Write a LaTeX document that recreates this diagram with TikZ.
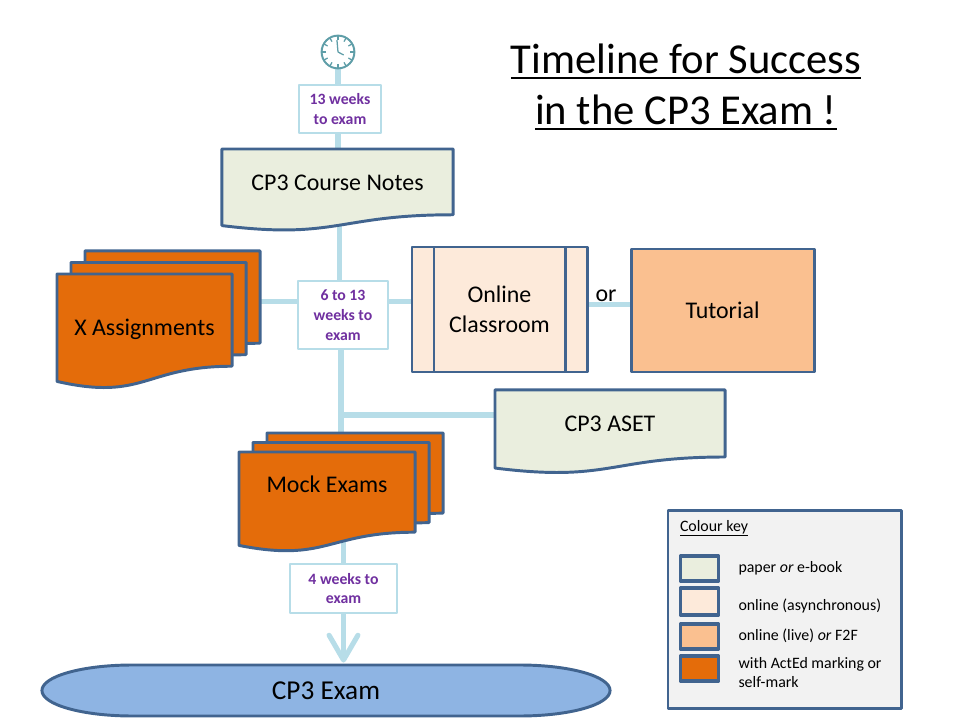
\documentclass[tikz,border=0pt]{standalone}
\usepackage{fontspec}
\setmainfont{Carlito}
\usetikzlibrary{arrows.meta, positioning, backgrounds, shadows}

\definecolor{boxline}{HTML}{41648F}
\definecolor{linkblue}{HTML}{B7DDE8}
\definecolor{paperfill}{HTML}{EAEEDE}
\definecolor{onlinefill}{HTML}{FDEADA}
\definecolor{livefill}{HTML}{FAC090}
\definecolor{markfill}{HTML}{E46C0A}
\definecolor{examfill}{HTML}{8EB4E3}
\definecolor{keyfill}{HTML}{F2F2F2}
\definecolor{notepurple}{HTML}{7030A0}
\definecolor{clockteal}{HTML}{5F9EA8}

% text with a rule under it: depth, thickness, text
\newcommand\underrule[3]{\mbox{\setbox0=\hbox{#3}\rlap{\rule[-#1]{\wd0}{#2}}\box0}}

\makeatletter
% wavy-bottomed page
\pgfdeclareshape{paperdoc}{
    \inheritsavedanchors[from=rectangle]
    \inheritanchorborder[from=rectangle]
    \inheritanchor[from=rectangle]{center}
    \inheritanchor[from=rectangle]{north}
    \inheritanchor[from=rectangle]{south}
    \inheritanchor[from=rectangle]{east}
    \inheritanchor[from=rectangle]{west}
    \inheritanchor[from=rectangle]{north west}
    \inheritanchor[from=rectangle]{south west}
    \backgroundpath{
        \southwest \pgf@xa=\pgf@x \pgf@ya=\pgf@y
        \northeast \pgf@xb=\pgf@x \pgf@yb=\pgf@y
        \edef\docleft{\the\pgf@xa}\edef\docright{\the\pgf@xb}\edef\doctop{\the\pgf@yb}
        \edef\docmid{\the\dimexpr(\pgf@xa+\pgf@xb)/2\relax}
        \edef\docyr{\the\dimexpr\pgf@yb-(\pgf@yb-\pgf@ya)*802/1000\relax}
        \edef\docyl{\the\dimexpr\pgf@yb-(\pgf@yb-\pgf@ya)*934/1000\relax}
        \edef\docyc{\the\dimexpr\pgf@yb-(\pgf@yb-\pgf@ya)*1107/1000\relax}
        \pgfpathmoveto{\pgfqpoint{\docleft}{\doctop}}
        \pgfpathlineto{\pgfqpoint{\docright}{\doctop}}
        \pgfpathlineto{\pgfqpoint{\docright}{\docyr}}
        \pgfpathcurveto{\pgfqpoint{\docmid}{\docyr}}{\pgfqpoint{\docmid}{\docyc}}{\pgfqpoint{\docleft}{\docyl}}
        \pgfpathclose
    }
}
% long pill with elliptical ends
\pgfdeclareshape{terminator}{
    \inheritsavedanchors[from=rectangle]
    \inheritanchorborder[from=rectangle]
    \inheritanchor[from=rectangle]{center}
    \inheritanchor[from=rectangle]{north}
    \inheritanchor[from=rectangle]{south}
    \backgroundpath{
        \southwest \pgf@xa=\pgf@x \pgf@ya=\pgf@y
        \northeast \pgf@xb=\pgf@x \pgf@yb=\pgf@y
        \edef\xl{\the\pgf@xa}\edef\xr{\the\pgf@xb}\edef\yb{\the\pgf@ya}\edef\yt{\the\pgf@yb}
        \edef\ym{\the\dimexpr(\pgf@ya+\pgf@yb)/2\relax}
        \edef\xla{\the\dimexpr\pgf@xa+(\pgf@xb-\pgf@xa)*16/100\relax}
        \edef\xra{\the\dimexpr\pgf@xb-(\pgf@xb-\pgf@xa)*16/100\relax}
        \edef\xlc{\the\dimexpr\pgf@xa+(\pgf@xb-\pgf@xa)*7/100\relax}
        \edef\xrc{\the\dimexpr\pgf@xb-(\pgf@xb-\pgf@xa)*7/100\relax}
        \edef\ybc{\the\dimexpr\pgf@ya+(\pgf@yb-\pgf@ya)*224/1000\relax}
        \edef\ytc{\the\dimexpr\pgf@yb-(\pgf@yb-\pgf@ya)*224/1000\relax}
        \pgfpathmoveto{\pgfqpoint{\xla}{\yt}}
        \pgfpathlineto{\pgfqpoint{\xra}{\yt}}
        \pgfpathcurveto{\pgfqpoint{\xrc}{\yt}}{\pgfqpoint{\xr}{\ytc}}{\pgfqpoint{\xr}{\ym}}
        \pgfpathcurveto{\pgfqpoint{\xr}{\ybc}}{\pgfqpoint{\xrc}{\yb}}{\pgfqpoint{\xra}{\yb}}
        \pgfpathlineto{\pgfqpoint{\xla}{\yb}}
        \pgfpathcurveto{\pgfqpoint{\xlc}{\yb}}{\pgfqpoint{\xl}{\ybc}}{\pgfqpoint{\xl}{\ym}}
        \pgfpathcurveto{\pgfqpoint{\xl}{\ytc}}{\pgfqpoint{\xlc}{\yt}}{\pgfqpoint{\xla}{\yt}}
        \pgfpathclose
    }
}
\makeatother

\begin{document}
\begin{tikzpicture}[
    x=0.025cm, y=-0.025cm,
    font=\fontsize{17}{21}\selectfont,
    outer sep=0pt,
    line join=round,
    >={Straight Barb[length=0.62cm, width=0.72cm, round]},
    plainbox/.style={rectangle, draw=boxline, line width=2.1pt, align=center},
    docbox/.style={paperdoc, draw=boxline, line width=2.1pt, align=center},
    stackbox/.style={docbox, fill=markfill,
        copy shadow={shadow xshift=0.7cm, shadow yshift=#1*2, fill=markfill, draw=boxline, line width=2.1pt},
        copy shadow={shadow xshift=0.35cm, shadow yshift=#1, fill=markfill, draw=boxline, line width=2.1pt}},
    timenote/.style={rectangle, draw=linkblue, line width=0.8pt, fill=white, text=notepurple, inner sep=0pt, align=center,
        font=\bfseries\fontsize{11.2}{14}\selectfont},
    keyswatch/.style={rectangle, draw=boxline, line width=2.5pt, minimum width=0.95cm},
    keytext/.style={inner sep=0pt, align=left, font=\fontsize{11.3}{13.5}\selectfont},
    link/.style={draw=linkblue, line width=3.6pt},
    clockline/.style={draw=clockteal, line width=0.9pt}
]
    \useasboundingbox (0,0) rectangle (960,720);

    \node[font=\fontsize{30.3}{36.3}\selectfont, align=center] (title) at (686,87) {\underrule{4pt}{1.5pt}{Timeline for Success}\\\underrule{4pt}{1.5pt}{in the CP3 Exam !}};

    % clock
    \node[circle, draw=clockteal, fill=white, line width=1.4pt, minimum size=0.82cm, inner sep=0pt] (clock) at (338,52) {};
    \foreach \ang in {0,30,...,330}
        \draw[clockline] ([shift={(\ang:0.3cm)}]clock.center) -- ([shift={(\ang:0.4cm)}]clock.center);
    \draw[clockline] (clock.center) -- ([shift={(95:0.3cm)}]clock.center);
    \draw[clockline] (clock.center) -- ([shift={(-28:0.16cm)}]clock.center);

    % main column
    \node[timenote, minimum width=2.05cm, minimum height=1.2cm] (t13) at (340,109) {13 weeks\\to exam};
    \node[docbox, fill=paperfill, minimum width=5.775cm, minimum height=2.05cm, text depth=0.35cm] (notes) at (337.5,190) {CP3 Course Notes};
    \node[timenote, minimum width=2.25cm, minimum height=1.7cm] (t613) at (343,315) {6 to 13\\weeks to\\exam};
    \node[stackbox=0.2875cm, minimum width=4.375cm, minimum height=2.875cm, text depth=0.2cm] (assign) at (144.5,331.5) {X Assignments};
    \node[plainbox, fill=onlinefill, minimum width=4.375cm, minimum height=3.125cm] (classroom) at (499.5,309.5) {Online\\Classroom};
    \node[plainbox, fill=livefill, minimum width=4.575cm, minimum height=3.075cm, right=1.1cm of classroom, yshift=-0.025cm] (tutorial) {Tutorial};
    \node[inner sep=0pt] (ortext) at (606,296) {or};
    \node[docbox, fill=paperfill, minimum width=5.75cm, minimum height=2.09cm, text depth=0.4cm] (aset) at (610,431.75) {CP3 ASET};
    \node[stackbox=0.2375cm, minimum width=4.4cm, minimum height=2.5cm, text depth=0.9cm] (mock) at (327,502) {Mock Exams};
    \node[timenote, minimum width=2.675cm, minimum height=1.225cm] (t4) at (343.5,588.5) {4 weeks to\\exam};
    \node[terminator, draw=boxline, line width=2.1pt, fill=examfill, minimum width=14.2cm, minimum height=1.275cm, font=\fontsize{19.4}{23}\selectfont] (exam) at (326,690.5) {CP3 Exam\hspace{0.1cm}};

    % side bars of the classroom box
    \draw[draw=boxline, line width=2.1pt] ([xshift=0.55cm]classroom.north west) -- ([xshift=0.55cm]classroom.south west);
    \draw[draw=boxline, line width=2.1pt] ([xshift=3.825cm]classroom.north west) -- ([xshift=3.825cm]classroom.south west);

    % colour key
    \node[rectangle, draw=boxline, line width=2.1pt, fill=keyfill, minimum width=5.825cm, minimum height=4.925cm] (keypanel) at (784.5,609.5) {};
    \node[keytext, anchor=west] (keytitle) at (680,528.5) {\underrule{3pt}{0.5pt}{Colour key}};
    \node[keyswatch, fill=paperfill, minimum height=0.62cm] (keypaper) at (699.5,568.5) {};
    \node[keyswatch, fill=onlinefill, minimum height=0.67cm] (keyonline) at (699.5,601.5) {};
    \node[keyswatch, fill=livefill, minimum height=0.62cm] (keylive) at (699.5,636.5) {};
    \node[keyswatch, fill=markfill, minimum height=0.62cm] (keymark) at (699.5,668.5) {};
    \node[keytext, right=0.5cm of keypaper, yshift=0.01cm] (keypapertext) {paper \textit{or} e-book};
    \node[keytext, right=0.5cm of keyonline, yshift=-0.1cm] (keyonlinetext) {online (asynchronous)};
    \node[keytext, right=0.5cm of keylive, yshift=0.03cm] (keylivetext) {online (live) \textit{or} F2F};
    \node[keytext, right=0.5cm of keymark, yshift=-0.1cm] (keymarktext) {with ActEd marking or\\self-mark};

    \coordinate (junction) at (341,415);

    \begin{scope}[on background layer]
        \draw[link] (clock) -- (clock |- notes.north);
        \draw[link] ([xshift=0.04cm]notes.center) -- ([xshift=0.04cm]notes.center |- t613.north);
        \draw[link] (junction |- t613.south) -- (junction) -- (junction |- mock.north);
        \draw[link] (junction) -- (junction -| aset.west);
        \draw[link] ([yshift=0.33cm]t613.west) -- ([yshift=0.33cm]t613.west -| assign.east);
        \draw[link] ([yshift=0.33cm]t613.east) -- ([yshift=0.33cm]t613.east -| classroom.west);
        \draw[link] ([yshift=0.12cm]classroom.east) -- ([yshift=0.12cm]classroom.east -| tutorial.west);
        \draw[link] (t4.north) -- (t4.north |- mock.center);
        \draw[link, ->, shorten >=0.06cm] (t4.south) -- (t4.south |- exam.north);
    \end{scope}
\end{tikzpicture}
\end{document}
